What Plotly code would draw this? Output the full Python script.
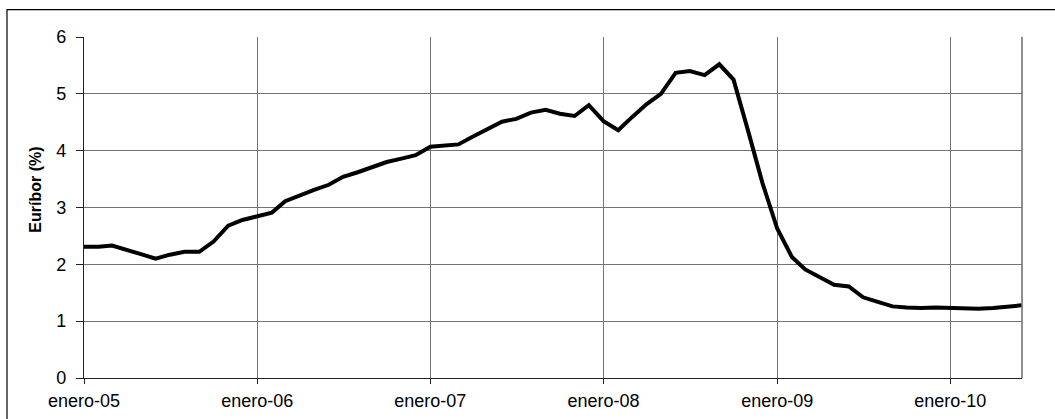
import pandas as pd
import plotly.graph_objects as go

# Monthly 12-month Euribor, January 2005 - June 2010 (%)
months = pd.date_range("2005-01-01", "2010-06-01", freq="MS")
euribor = [
    2.31, 2.31, 2.33, 2.26, 2.18, 2.10, 2.17, 2.22, 2.22, 2.40, 2.68, 2.78,   # 2005
    2.84, 2.91, 3.11, 3.22, 3.31, 3.40, 3.54, 3.62, 3.72, 3.80, 3.86, 3.92,   # 2006
    4.07, 4.09, 4.11, 4.25, 4.38, 4.51, 4.56, 4.67, 4.72, 4.65, 4.61, 4.80,   # 2007
    4.52, 4.36, 4.59, 4.82, 5.00, 5.37, 5.40, 5.33, 5.52, 5.25, 4.34, 3.43,   # 2008
    2.63, 2.13, 1.91, 1.78, 1.64, 1.61, 1.42, 1.34, 1.26, 1.24, 1.23, 1.24,   # 2009
    1.23, 1.23, 1.22, 1.23, 1.25, 1.28,                                       # 2010
]
tick_dates = pd.to_datetime(["2005-01-01", "2006-01-01", "2007-01-01",
                             "2008-01-01", "2009-01-01", "2010-01-01"])
tick_labels = ["enero-05", "enero-06", "enero-07", "enero-08", "enero-09", "enero-10"]
y_ticks = [0, 1, 2, 3, 4, 5, 6]

FONT = "Liberation Sans, Arial, sans-serif"
GRID = "#737373"

# plot area in pixels: x 84..1022, y 37..378
PW, PH = 938.0, 341.0

fig = go.Figure(
    go.Scatter(
        x=months, y=euribor, mode="lines",
        line=dict(color="black", width=4),
        hoverinfo="x+y", showlegend=False,
    )
)

fig.update_layout(
    width=1055, height=419,
    margin=dict(l=84, r=33, t=37, b=41),
    paper_bgcolor="white", plot_bgcolor="white",
    font=dict(family=FONT, color="black", size=16),
    xaxis=dict(
        range=[months[0], months[-1]],
        tickvals=tick_dates, ticktext=tick_labels,
        showgrid=True, gridcolor=GRID, gridwidth=1.4,
        showline=True, linecolor="#222", linewidth=1.4,
        ticks="outside", ticklen=5, tickcolor="#222",
        tickfont=dict(size=18), ticklabelstandoff=1, zeroline=False,
        automargin=False,
    ),
    yaxis=dict(
        range=[0, 6], tickvals=y_ticks,
        showgrid=True, gridcolor=GRID, gridwidth=1.4,
        showline=True, linecolor="#222", linewidth=1.4,
        ticks="outside", ticklen=7, tickcolor="#222",
        tickfont=dict(size=18), ticklabelstandoff=6, zeroline=False,
        automargin=False,
    ),
    annotations=[
        dict(text="<b>Euríbor (%)</b>", xref="paper", yref="paper",
             x=(36 - 84) / PW, y=(378.3 - 190) / PH, textangle=-90,
             showarrow=False, font=dict(size=16), xanchor="center", yanchor="middle"),
    ],
    shapes=[
        # right edge of the plotting area
        dict(type="line", xref="paper", yref="paper", x0=1, x1=1, y0=0, y1=1,
             line=dict(color=GRID, width=1.6)),
        # outer frame around the chart
        dict(type="rect", xref="paper", yref="paper",
             x0=(7 - 84) / PW, x1=1.1, y0=-0.2, y1=(378.3 - 10) / PH,
             line=dict(color="black", width=1.2), layer="below"),
    ],
)

fig.write_html("out.html")
